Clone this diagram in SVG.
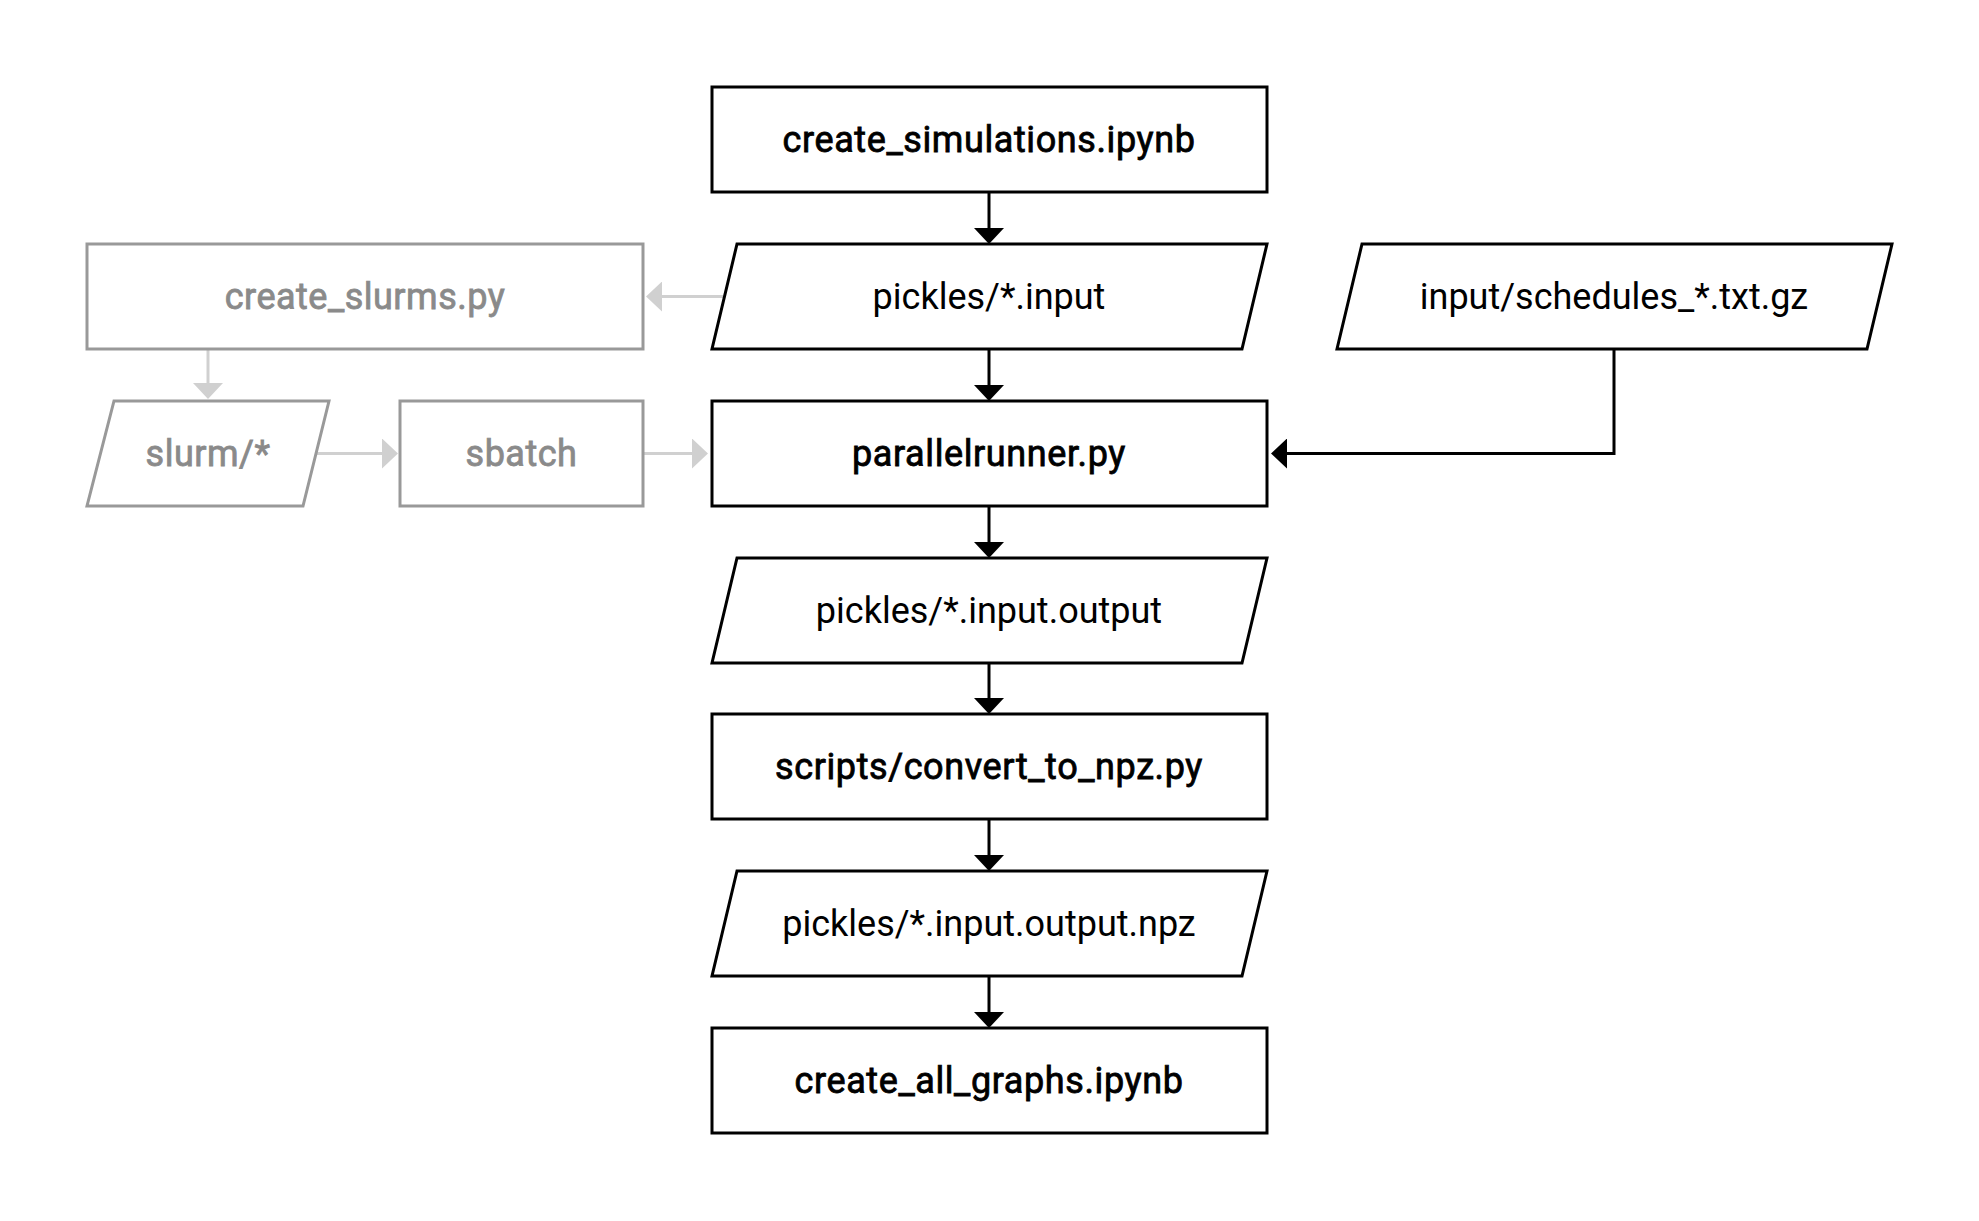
<svg xmlns="http://www.w3.org/2000/svg" width="1979" height="1221" viewBox="0 0 1979 1221">
<style>
.n{fill:#fff;stroke:#000;stroke-width:3}
.g{fill:#fff;stroke:#999;stroke-width:3}
.t{font-family:Roboto,"Liberation Sans",sans-serif;font-size:36px;text-anchor:middle;fill:#000}
.b{stroke:#000;stroke-width:0.8px;letter-spacing:0.6px}
.gt{fill:#8a8a8a;stroke:#8a8a8a;stroke-width:0.8px;letter-spacing:0.5px}
.c{fill:none;stroke:#000;stroke-width:3}
.cg{fill:none;stroke:#d0d0d0;stroke-width:3}
</style>
<defs>
<marker id="ab" markerUnits="userSpaceOnUse" markerWidth="18" markerHeight="30" viewBox="0 0 16 30" refX="0" refY="15" orient="auto"><path d="M0,0 L16,15 L0,30 z" fill="#000"/></marker>
<marker id="ag" markerUnits="userSpaceOnUse" markerWidth="18" markerHeight="30" viewBox="0 0 16 30" refX="0" refY="15" orient="auto"><path d="M0,0 L16,15 L0,30 z" fill="#d0d0d0"/></marker>
</defs>
<rect width="1979" height="1221" fill="#fff"/>
<g id="connectors">
<line class="c" x1="989" y1="192" x2="989" y2="228" marker-end="url(#ab)"/>
<line class="c" x1="989" y1="349" x2="989" y2="385" marker-end="url(#ab)"/>
<line class="c" x1="989" y1="506" x2="989" y2="542" marker-end="url(#ab)"/>
<line class="c" x1="989" y1="663" x2="989" y2="698" marker-end="url(#ab)"/>
<line class="c" x1="989" y1="819" x2="989" y2="855" marker-end="url(#ab)"/>
<line class="c" x1="989" y1="976" x2="989" y2="1012" marker-end="url(#ab)"/>
<path class="c" d="M1614,349 V453.5 H1287" marker-end="url(#ab)"/>
<line class="cg" x1="723" y1="296.5" x2="662" y2="296.5" marker-end="url(#ag)"/>
<line class="cg" x1="208" y1="349" x2="208" y2="383" marker-end="url(#ag)"/>
<line class="cg" x1="316" y1="453.5" x2="382" y2="453.5" marker-end="url(#ag)"/>
<line class="cg" x1="643" y1="453.5" x2="692" y2="453.5" marker-end="url(#ag)"/>
</g>
<g id="create_simulations">
<rect class="n" x="712" y="87" width="555" height="105"/>
<text class="t b" x="989" y="152">create_simulations.ipynb</text>
</g>
<g id="pickles_input">
<polygon class="n" points="737,244 1267,244 1242,349 712,349"/>
<text class="t" x="989" y="309">pickles/*.input</text>
</g>
<g id="create_slurms">
<rect class="g" x="87" y="244" width="556" height="105"/>
<text class="t gt" x="365" y="309">create_slurms.py</text>
</g>
<g id="schedules">
<polygon class="n" points="1362,244 1892,244 1867,349 1337,349"/>
<text class="t" x="1614" y="309">input/schedules_*.txt.gz</text>
</g>
<g id="slurm">
<polygon class="g" points="114,401 329,401 303,506 87,506"/>
<text class="t gt" x="208" y="466">slurm/*</text>
</g>
<g id="sbatch">
<rect class="g" x="400" y="401" width="243" height="105"/>
<text class="t gt" x="521.5" y="466">sbatch</text>
</g>
<g id="parallelrunner">
<rect class="n" x="712" y="401" width="555" height="105"/>
<text class="t b" x="989" y="466">parallelrunner.py</text>
</g>
<g id="pickles_output">
<polygon class="n" points="737,558 1267,558 1242,663 712,663"/>
<text class="t" x="989" y="623">pickles/*.input.output</text>
</g>
<g id="convert_to_npz">
<rect class="n" x="712" y="714" width="555" height="105"/>
<text class="t b" x="989" y="779">scripts/convert_to_npz.py</text>
</g>
<g id="pickles_npz">
<polygon class="n" points="737,871 1267,871 1242,976 712,976"/>
<text class="t" x="989" y="936">pickles/*.input.output.npz</text>
</g>
<g id="create_all_graphs">
<rect class="n" x="712" y="1028" width="555" height="105"/>
<text class="t b" x="989" y="1093">create_all_graphs.ipynb</text>
</g>
</svg>
